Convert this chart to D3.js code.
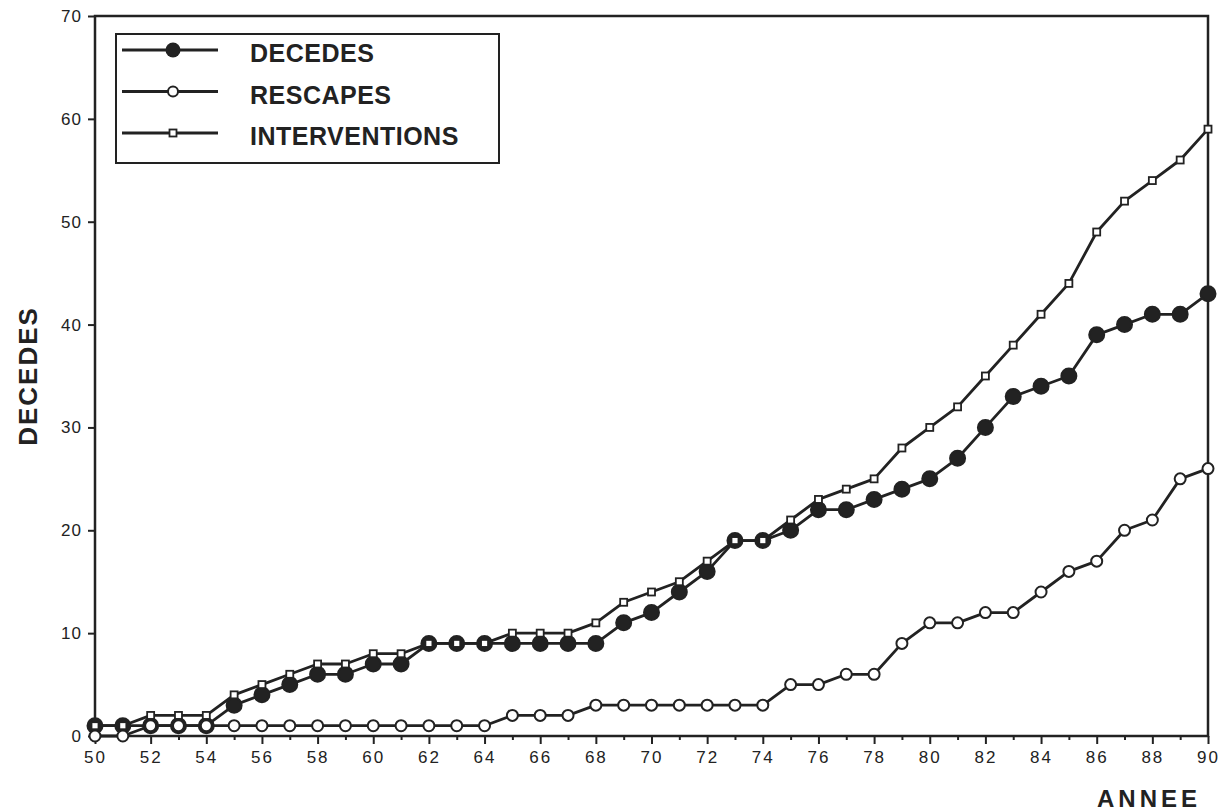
<!DOCTYPE html>
<html>
<head>
<meta charset="utf-8">
<script src="https://cdn.jsdelivr.net/npm/d3@7"></script>
<style>
  body { margin: 0; background: #fff; }
  svg { display: block; }
  text { font-family: "Liberation Sans", Arial, sans-serif; fill: #222; }
</style>
</head>
<body>
<svg id="chart"></svg>
<script>
// years 1950..1990, one point per year
const years = d3.range(50, 91);
const decedes = [1, 1, 1, 1, 1, 3, 4, 5, 6, 6, 7, 7, 9, 9, 9, 9, 9, 9, 9, 11,
  12, 14, 16, 19, 19, 20, 22, 22, 23, 24, 25, 27, 30, 33, 34, 35, 39, 40, 41, 41, 43];
const rescapes = [0, 0, 1, 1, 1, 1, 1, 1, 1, 1, 1, 1, 1, 1, 1, 2, 2, 2, 3, 3,
  3, 3, 3, 3, 3, 5, 5, 6, 6, 9, 11, 11, 12, 12, 14, 16, 17, 20, 21, 25, 26];
const interventions = [1, 1, 2, 2, 2, 4, 5, 6, 7, 7, 8, 8, 9, 9, 9, 10, 10, 10, 11, 13,
  14, 15, 17, 19, 19, 21, 23, 24, 25, 28, 30, 32, 35, 38, 41, 44, 49, 52, 54, 56, 59];
const yTicks = [0, 10, 20, 30, 40, 50, 60, 70];
const xTickLabels = d3.range(50, 91, 2);
const seriesNames = ["DECEDES", "RESCAPES", "INTERVENTIONS"];

function drawChart(){
    let config = chartConfig();
    let scales = chartScales(config);
    drawAxes(scales, config);
    drawSeries(scales, config);
    drawLegend(config);
}

function chartConfig(){
    let width = 1224;
    let height = 812;
    let margin = {top: 16, bottom: 76, left: 95, right: 16};
    let bodyWidth = width - margin.left - margin.right;
    let bodyHeight = height - margin.top - margin.bottom;
    let container = d3.select("#chart").attr("width", width).attr("height", height);
    let body = container.append("g")
        .attr("transform", `translate(${margin.left},${margin.top})`);
    return {width, height, margin, bodyWidth, bodyHeight, container, body};
}

function chartScales(config){
    let {bodyWidth, bodyHeight} = config;
    let xScale = d3.scaleLinear().domain([50, 90]).range([0, bodyWidth]);
    let yScale = d3.scaleLinear().domain([0, 70]).range([bodyHeight, 0]);
    return {xScale, yScale};
}

function drawAxes(scales, config){
    let {body, bodyWidth, bodyHeight, container} = config;
    let {xScale, yScale} = scales;
    const ink = "#222";

    // frame
    body.append("rect")
        .attr("width", bodyWidth).attr("height", bodyHeight)
        .attr("fill", "none").attr("stroke", ink).attr("stroke-width", 2.5);

    // y axis
    let yAxis = body.append("g")
        .call(d3.axisLeft(yScale).tickValues(yTicks).tickSize(7).tickPadding(6));
    yAxis.select(".domain").remove();
    yAxis.selectAll("line").attr("stroke", ink).attr("stroke-width", 2);
    yAxis.selectAll("text").style("font-size", "17px").style("letter-spacing", "1px").attr("fill", ink);

    // x axis, minor ticks on odd years
    let xMinor = body.append("g").attr("transform", `translate(0,${bodyHeight})`)
        .call(d3.axisBottom(xScale).tickValues(years.filter(d => d % 2 === 1)).tickSize(4).tickFormat(""));
    xMinor.select(".domain").remove();
    xMinor.selectAll("line").attr("stroke", ink).attr("stroke-width", 2);

    let xAxis = body.append("g").attr("transform", `translate(0,${bodyHeight})`)
        .call(d3.axisBottom(xScale).tickValues(xTickLabels).tickSize(8).tickPadding(7));
    xAxis.select(".domain").remove();
    xAxis.selectAll("line").attr("stroke", ink).attr("stroke-width", 2);
    xAxis.selectAll("text").style("font-size", "17px").style("letter-spacing", "2px").attr("fill", ink);

    // axis titles
    container.append("text")
        .attr("transform", "translate(37,376) rotate(-90)")
        .attr("text-anchor", "middle")
        .style("font-size", "26px").style("font-weight", "bold").style("letter-spacing", "2px")
        .text("DECEDES");
    container.append("text")
        .attr("x", 1201).attr("y", 807)
        .attr("text-anchor", "end")
        .style("font-size", "24px").style("font-weight", "bold").style("letter-spacing", "4px")
        .text("ANNEE");
}

function drawSeries(scales, config){
    let {body} = config;
    let {xScale, yScale} = scales;
    const ink = "#222";
    let line = d3.line().x((d, i) => xScale(years[i])).y(d => yScale(d));

    let all = [
        {values: decedes, marker: "dot"},
        {values: rescapes, marker: "circle"},
        {values: interventions, marker: "square"}
    ];
    all.forEach(s => {
        body.append("path").datum(s.values)
            .attr("d", line).attr("fill", "none")
            .attr("stroke", ink).attr("stroke-width", 2.8).attr("stroke-linejoin", "round");
    });
    all.forEach(s => {
        let g = body.append("g");
        if (s.marker === "square") {
            g.selectAll("rect").data(s.values).enter().append("rect")
                .attr("x", (d, i) => xScale(years[i]) - 3.5)
                .attr("y", d => yScale(d) - 3.5)
                .attr("width", 7).attr("height", 7)
                .attr("fill", "#fff").attr("stroke", ink).attr("stroke-width", 1.8);
        } else {
            g.selectAll("circle").data(s.values).enter().append("circle")
                .attr("cx", (d, i) => xScale(years[i]))
                .attr("cy", d => yScale(d))
                .attr("r", s.marker === "dot" ? 7.5 : 5.5)
                .attr("fill", s.marker === "dot" ? ink : "#fff")
                .attr("stroke", ink).attr("stroke-width", 2);
        }
    });
}

function drawLegend(config){
    let {container} = config;
    const ink = "#222";
    let lg = container.append("g");
    lg.append("rect")
        .attr("x", 116).attr("y", 34).attr("width", 383).attr("height", 129)
        .attr("fill", "#fff").attr("stroke", ink).attr("stroke-width", 2);
    let rowY = d3.scalePoint().domain(seriesNames).range([50, 133]);
    seriesNames.forEach((name, i) => {
        let y = rowY(name);
        lg.append("line").attr("x1", 122).attr("x2", 218).attr("y1", y).attr("y2", y)
            .attr("stroke", ink).attr("stroke-width", 2.8);
        if (i === 0) {
            lg.append("circle").attr("cx", 173).attr("cy", y).attr("r", 7.5).attr("fill", ink);
        } else if (i === 1) {
            lg.append("circle").attr("cx", 173).attr("cy", y).attr("r", 5)
                .attr("fill", "#fff").attr("stroke", ink).attr("stroke-width", 2);
        } else {
            lg.append("rect").attr("x", 169.5).attr("y", y - 3.5).attr("width", 7).attr("height", 7)
                .attr("fill", "#fff").attr("stroke", ink).attr("stroke-width", 1.8);
        }
        lg.append("text").attr("x", 250).attr("y", y + 12)
            .style("font-size", "25px").style("font-weight", "bold").style("letter-spacing", "0.5px")
            .text(name);
    });
}

drawChart();
</script>
</body>
</html>
